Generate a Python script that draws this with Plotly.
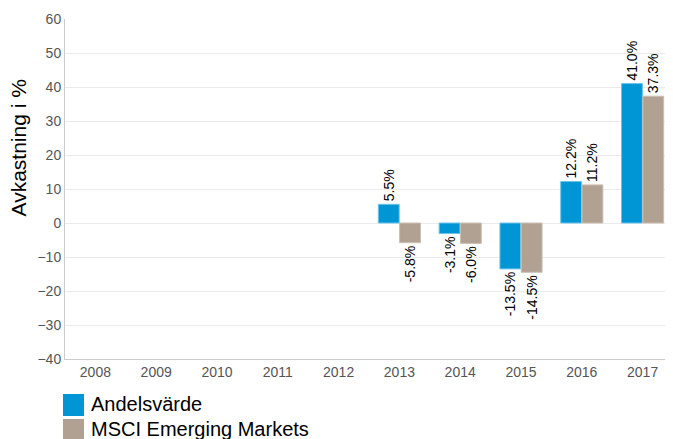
import plotly.graph_objects as go

years = ["2008", "2009", "2010", "2011", "2012", "2013", "2014", "2015", "2016", "2017"]
andelsvarde = [None, None, None, None, None, 5.5, -3.1, -13.5, 12.2, 41.0]
msci = [None, None, None, None, None, -5.8, -6.0, -14.5, 11.2, 37.3]
series_names = ["Andelsvärde", "MSCI Emerging Markets"]
colors = ["#0096D6", "#B1A193"]
edge_colors = ["#6CC4EA", "#CBBFB3"]
y_title = "Avkastning i %"

font = "Liberation Sans, Arial, sans-serif"
# page body has an 8px default margin, so the figure is sized to fill the rest of the window
W, H = 665, 431
L, R, T, B = 57, 0, 11, 80
pw, ph = W - L - R, H - T - B

fig = go.Figure()
for vals, nm, c, ec in zip([andelsvarde, msci], series_names, colors, edge_colors):
    fig.add_bar(x=years, y=vals, name=nm, showlegend=False,
                marker=dict(color=c, line=dict(color=ec, width=1)),
                texttemplate="%{y:.1f}%", textposition="outside", textangle=-90,
                constraintext="none",
                textfont=dict(size=14, color="#000", family=font), cliponaxis=False)

# custom legend (swatch + label) below the plot
shapes, annotations = [], []
for i, (nm, c) in enumerate(zip(series_names, colors)):
    top_px = 386 + i * 25
    x0 = (55 - L) / pw
    x1 = (76 - L) / pw
    y1 = (H - B - top_px) / ph
    y0 = (H - B - top_px - 22) / ph
    shapes.append(dict(type="rect", xref="paper", yref="paper", x0=x0, x1=x1, y0=y0, y1=y1,
                       fillcolor=c, line=dict(width=0)))
    annotations.append(dict(text=nm, xref="paper", yref="paper", x=(81 - L) / pw,
                            y=(H - B - top_px - 10) / ph, xanchor="left", yanchor="middle",
                            showarrow=False, font=dict(size=20, color="#000", family=font)))

# y-axis title (placed above the plot's vertical centre, as in the reference)
annotations.append(dict(text=y_title, xref="paper", yref="paper", x=(9.5 - L) / pw,
                        y=(H - B - 140) / ph, xanchor="center", yanchor="middle",
                        textangle=-90, showarrow=False,
                        font=dict(size=21, color="#000", family=font)))

fig.update_layout(
    width=W, height=H,
    margin=dict(l=L, r=R, t=T, b=B, autoexpand=False),
    paper_bgcolor="white", plot_bgcolor="white",
    barmode="group", bargap=0.3, bargroupgap=0.02,
    font=dict(family=font, size=14, color="#555"),
    showlegend=False,
    shapes=shapes, annotations=annotations,
)
fig.update_xaxes(type="category", showline=True, linecolor="#cccccc", linewidth=1,
                 ticks="", tickfont=dict(size=14, color="#555"), showgrid=False, automargin=False)
fig.update_yaxes(range=[-40, 60], dtick=10, showline=True, linecolor="#cccccc", linewidth=1,
                 gridcolor="#ebebeb", zeroline=False, ticks="", automargin=False,
                 tickfont=dict(size=14, color="#555"))

fig.write_html("out.html")
